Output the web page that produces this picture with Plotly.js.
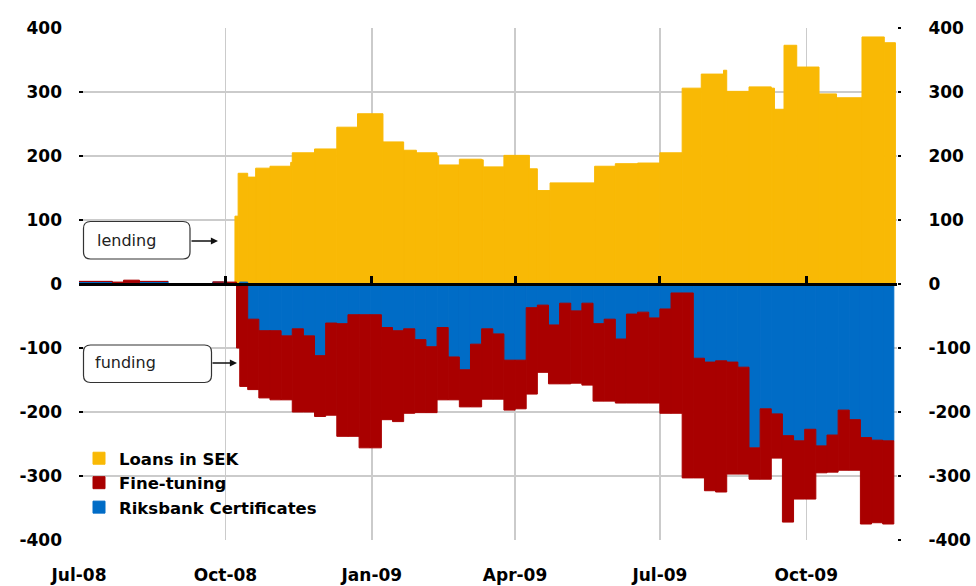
<!DOCTYPE html>
<html>
<head>
<meta charset="utf-8">
<script src="https://cdn.plot.ly/plotly-3.0.1.min.js"></script>
<style>
html,body{margin:0;padding:0;background:#fff;}
#chart{width:976px;height:586px;}
</style>
</head>
<body>
<div id="chart"></div>
<script>
// ---- Data (SEK bn), step series ----
const lendingDates = ['2008-10-07','2008-10-09','2008-10-15','2008-10-20','2008-10-29','2008-11-11','2008-11-12','2008-11-26','2008-12-10','2008-12-23',
  '2009-01-08','2009-01-21','2009-01-29','2009-02-11','2009-02-12','2009-02-25','2009-03-11','2009-03-12','2009-03-25','2009-04-10',
  '2009-04-15','2009-04-23','2009-05-21','2009-06-03','2009-06-17','2009-07-01','2009-07-15','2009-07-27','2009-08-10','2009-08-12',
  '2009-08-26','2009-09-09','2009-09-11','2009-09-17','2009-09-25','2009-10-09','2009-10-20','2009-11-05','2009-11-19'];
const lendingEnd = '2009-11-26';
const loansInSEK = [106,173,167,181,184,190,205,211,245,266,
  222,209,205,200,186,195,194,183,201,180,
  146,158,184,188,189,205,306,328,334,301,
  308,306,273,373,339,297,291,386,377];

const fundingDates = ['2008-07-01','2008-07-22','2008-07-29','2008-08-08','2008-08-26','2008-09-23','2008-09-30','2008-10-02','2008-10-08','2008-10-10',
  '2008-10-15','2008-10-22','2008-10-29','2008-11-05','2008-11-12','2008-11-19','2008-11-26','2008-12-03','2008-12-10','2008-12-17',
  '2008-12-24','2008-12-31','2009-01-07','2009-01-14','2009-01-21','2009-01-28','2009-02-04','2009-02-11','2009-02-18','2009-02-25',
  '2009-03-04','2009-03-11','2009-03-18','2009-03-25','2009-04-01','2009-04-08','2009-04-15','2009-04-22','2009-04-29','2009-05-06',
  '2009-05-13','2009-05-20','2009-05-27','2009-06-03','2009-06-10','2009-06-17','2009-06-24','2009-07-01','2009-07-08','2009-07-15',
  '2009-07-22','2009-07-29','2009-08-05','2009-08-12','2009-08-19','2009-08-26','2009-09-02','2009-09-09','2009-09-16','2009-09-23',
  '2009-09-30','2009-10-07','2009-10-14','2009-10-21','2009-10-28','2009-11-04','2009-11-11','2009-11-18'];
const fundingEnd = '2009-11-25';
const riksbankCertificates = [4,0,2,4,0,3,0,0,0,3,
  -55,-73,-73,-81,-70,-81,-112,-61,-62,-48,
  -48,-48,-68,-73,-70,-87,-98,-68,-114,-134,
  -94,-70,-78,-119,-119,-37,-33,-64,-30,-42,
  -30,-62,-55,-86,-47,-44,-53,-39,-14,-14,
  -116,-122,-120,-122,-130,-256,-195,-203,-237,-245,
  -227,-253,-236,-197,-212,-240,-244,-245];
const fineTuning = [0,3,4,0,0,0,0,3,-100,-160,
  -110,-105,-108,-100,-130,-119,-95,-144,-176,-190,
  -208,-208,-144,-142,-132,-114,-103,-113,-67,-58,
  -98,-110,-102,-78,-76,-135,-105,-92,-126,-113,
  -128,-121,-128,-100,-139,-142,-133,-163,-188,-289,
  -187,-201,-205,-175,-167,-49,-110,-69,-135,-91,
  -109,-42,-58,-94,-79,-135,-129,-130];

const seriesNames = ['Loans in SEK','Fine-tuning','Riksbank Certificates'];
const xRange = ['2008-07-01','2009-11-27'];
const yRange = [-400, 400];
const yTickVals = [-400,-300,-200,-100,0,100,200,300,400];
const yTickText = ['-400','-300','-200','-100','0','100','200','300','400'];

// ---- helpers ----
function stepWidths(dates, end){
  const all = dates.concat([end]);
  return dates.map((d,i) => Date.parse(all[i+1]) - Date.parse(d));
}
function roundRect(x0,y0,x1,y1,rx,ry){
  return 'M'+(x0+rx)+','+y0+' L'+(x1-rx)+','+y0+' Q'+x1+','+y0+' '+x1+','+(y0+ry)+
         ' L'+x1+','+(y1-ry)+' Q'+x1+','+y1+' '+(x1-rx)+','+y1+
         ' L'+(x0+rx)+','+y1+' Q'+x0+','+y1+' '+x0+','+(y1-ry)+
         ' L'+x0+','+(y0+ry)+' Q'+x0+','+y0+' '+(x0+rx)+','+y0+' Z';
}

const FONT = 'DejaVu Sans, Verdana, sans-serif';
const YEL = '#F9B905', RED = '#A90000', BLUE = '#006CC6';

const traces = [
  {type:'bar', name:seriesNames[0], x:lendingDates, y:loansInSEK, width:stepWidths(lendingDates, lendingEnd), offset:0,
   xaxis:'x', yaxis:'y', marker:{color:YEL, line:{width:1, color:YEL}}, legendrank:1},
  {type:'bar', name:seriesNames[2], x:fundingDates, y:riksbankCertificates, width:stepWidths(fundingDates, fundingEnd), offset:0,
   xaxis:'x2', yaxis:'y2', marker:{color:BLUE, line:{width:1, color:BLUE}}, legendrank:3},
  {type:'bar', name:seriesNames[1], x:fundingDates, y:fineTuning, width:stepWidths(fundingDates, fundingEnd), offset:0,
   xaxis:'x2', yaxis:'y2', marker:{color:RED, line:{width:1, color:RED}}, legendrank:2}
];

const W = 818, H = 512; // plot area px
const px = v => (v-79)/W, py = v => (540-v)/H;
const tickFont = {family:FONT, size:17, color:'#000', weight:'bold'};

const layout = {
  width:976, height:586,
  margin:{l:79, r:79, t:28, b:46},
  paper_bgcolor:'#fff', plot_bgcolor:'#fff',
  barmode:'relative',
  hovermode:false,
  showlegend:true,
  legend:{x:0.0, y:py(441), xanchor:'left', yanchor:'top', traceorder:'normal', tracegroupgap:0,
          bgcolor:'rgba(255,255,255,0)', font:{family:FONT, size:16.5, color:'#000', weight:'bold'}},
  xaxis:{type:'date', range:xRange, dtick:'M3', tick0:'2008-07-01', tickformat:'%b-%y',
         showgrid:true, gridcolor:'#cbcbcb', gridwidth:1.5, zeroline:false, showline:false,
         ticks:'', ticklabelstandoff:23, tickfont:tickFont},
  xaxis2:{type:'date', range:xRange, dtick:'M3', tick0:'2008-07-01', overlaying:'x', anchor:'free', position:0.5,
          showgrid:false, zeroline:false, showticklabels:false, showline:true, linecolor:'#000', linewidth:3,
          ticks:'inside', ticklen:7, tickwidth:3, tickcolor:'#000', layer:'above traces'},
  yaxis:{range:yRange, tickvals:yTickVals, ticktext:yTickText, showgrid:true, gridcolor:'#cbcbcb', gridwidth:1.5,
         zeroline:false, showline:false,
         ticks:'inside', ticklen:4, tickwidth:2, tickcolor:'#000', ticklabelstandoff:16, tickfont:tickFont},
  yaxis2:{range:yRange, tickvals:yTickVals, ticktext:yTickText, overlaying:'y', side:'right', anchor:'x',
          showgrid:false, zeroline:false, showline:false,
          ticks:'outside', ticklen:3, tickwidth:2, tickcolor:'#000', ticklabelstandoff:24, tickfont:tickFont},
  shapes:[
    {type:'path', xref:'paper', yref:'paper', path:roundRect(px(83.5), py(259), px(190), py(221.5), 7/W, 7/H),
     fillcolor:'#fff', line:{color:'#333', width:1.2}},
    {type:'path', xref:'paper', yref:'paper', path:roundRect(px(83.5), py(382.5), px(211.5), py(345), 7/W, 7/H),
     fillcolor:'#fff', line:{color:'#333', width:1.2}}
  ],
  annotations:[
    {xref:'paper', yref:'paper', x:px(95), y:py(240), xanchor:'left', yanchor:'middle', text:'lending', showarrow:false,
     font:{family:FONT, size:16, color:'#222'}},
    {xref:'paper', yref:'paper', x:px(93), y:py(362), xanchor:'left', yanchor:'middle', text:'funding', showarrow:false,
     font:{family:FONT, size:16, color:'#222'}},
    {xref:'paper', yref:'paper', x:px(218), y:py(241), text:'', showarrow:true, ax:-28, ay:0,
     arrowhead:2, arrowsize:1.1, arrowwidth:1.3, arrowcolor:'#111'},
    {xref:'paper', yref:'paper', x:px(237), y:py(363), text:'', showarrow:true, ax:-26, ay:0,
     arrowhead:2, arrowsize:1.1, arrowwidth:1.3, arrowcolor:'#111'}
  ]
};

Plotly.newPlot('chart', traces, layout, {staticPlot:true, displayModeBar:false});
</script>
</body>
</html>
